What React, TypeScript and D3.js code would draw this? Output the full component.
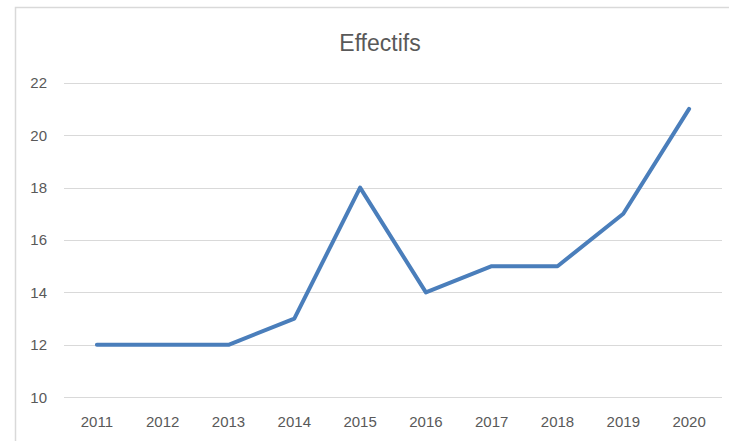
import React from "react";
import * as d3 from "d3";

const years = ["2011", "2012", "2013", "2014", "2015", "2016", "2017", "2018", "2019", "2020"];
const effectifs = [12, 12, 12, 13, 18, 14, 15, 15, 17, 21];
const yTicks = [10, 12, 14, 16, 18, 20, 22];
const title = "Effectifs";

const W = 729;
const H = 441;
const FONT = "'Liberation Sans', Arial, sans-serif";

export default function App() {
  const x = d3.scaleBand<string>().domain(years).range([64, 722]);
  const y = d3.scaleLinear().domain([10, 22]).range([397.3, 82.7]);
  const cx = (d: string) => (x(d) as number) + x.bandwidth() / 2;
  const pts: [number, number][] = years.map((yr, i) => [cx(yr), y(effectifs[i])]);
  const line = d3.line()(pts) as string;

  return (
    <svg
      width={W}
      height={H}
      style={{ position: "fixed", left: 0, top: 0, background: "#fff" }}
    >
      <rect x={0} y={0} width={W} height={H} fill="#fff" />
      <rect x={15.5} y={7.5} width={800} height={800} fill="#fff" stroke="#d9d9d9" strokeWidth={1.5} />
      <text x={380} y={51} textAnchor="middle" fontFamily={FONT} fontSize={23} fill="#595959">
        {title}
      </text>
      {yTicks.map((t) => (
        <g key={t}>
          <line x1={64} x2={722} y1={Math.round(y(t)) + 0.5} y2={Math.round(y(t)) + 0.5} stroke="#d9d9d9" strokeWidth={1} />
          <text x={47} y={y(t)} dy="0.36em" textAnchor="end" fontFamily={FONT} fontSize={15} fill="#595959">
            {t}
          </text>
        </g>
      ))}
      {years.map((yr) => (
        <text key={yr} x={cx(yr)} y={426.5} textAnchor="middle" fontFamily={FONT} fontSize={15} fill="#595959">
          {yr}
        </text>
      ))}
      <path d={line} fill="none" stroke="#4a7ebb" strokeWidth={4} strokeLinejoin="round" strokeLinecap="round" />
    </svg>
  );
}
